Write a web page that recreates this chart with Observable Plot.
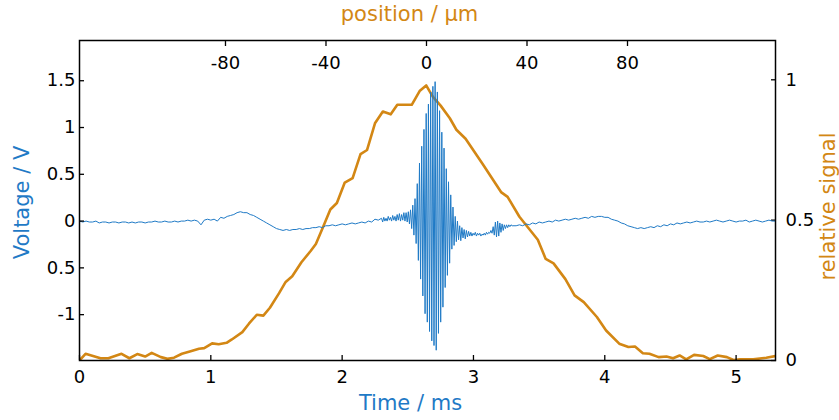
<!DOCTYPE html>
<html><head><meta charset="utf-8">
<script src="https://cdn.jsdelivr.net/npm/d3@7"></script>
<script src="https://cdn.jsdelivr.net/npm/@observablehq/plot@0.6"></script>
<style>
body{margin:0;background:#fff}
#c{position:relative;width:839px;height:420px}
#c svg{position:absolute;left:0;top:0}
</style></head><body><div id="c"></div>
<script>
const BLUE = "#1f7ac6", ORANGE = "#d38714";
const timeTicks = [0, 1, 2, 3, 4, 5];
const timeTickLabels = ["0", "1", "2", "3", "4", "5"];
const voltTicks = [-1, -0.5, 0, 0.5, 1, 1.5];
const voltTickLabels = ["-1", "0.5", "0", "0.5", "1", "1.5"];
const relTicks = [0, 0.5, 1];
const relTickLabels = ["0", "0.5", "1"];
const posTicks = [-80, -40, 0, 40, 80];
const posTickLabels = ["-80", "-40", "0", "40", "80"];

// Voltage trace, segment 1: sampled every 0.025 ms from 0 ms
const voltBeforeStart = 0, voltBeforeStep = 0.025;
const voltBefore = [
 0.00,-0.01,0.00,-0.01, -0.01,0.00,-0.02,-0.01, -0.01,-0.02,-0.01,-0.01, -0.02,-0.01,-0.01,-0.02,
 -0.01,-0.02,-0.01,-0.01, -0.02,-0.01,-0.01,0.00, -0.01,-0.01,0.00,-0.01, -0.01,0.00,-0.01,0.00,
 0.00,0.01,0.00,0.01, 0.00,-0.04,0.01,0.02, 0.01,0.02,0.00,0.04, 0.03,0.05,0.06,0.07,
 0.09,0.10,0.09,0.09, 0.07,0.06,0.04,0.02, 0.00,-0.02,-0.04,-0.06, -0.08,-0.09,-0.10,-0.09,
 -0.10,-0.09,-0.09,-0.08, -0.09,-0.08,-0.08,-0.07, -0.07,-0.06,-0.07,-0.05, -0.05,-0.04,-0.05,-0.04,
 -0.03,-0.04,-0.03,-0.02, -0.03,-0.02,-0.01,-0.02, 0.00,-0.01,0.02,0.01
];
// segment 2: the wave packet, one value per half period (0.0085 ms) from 2.30 ms
const voltPacketStart = 2.30, voltPacketStep = 0.0085;
const voltPacket = [
 0.03,-0.01,0.04,0.00,0.03,0.00,0.05,0.01,0.04,0.00,
 0.06,0.01,0.05,0.00,0.07,0.01,0.08,0.00,0.07,0.01,
 0.09,0.00,0.09,-0.01,0.10,-0.03,0.12,-0.08,0.17,-0.15,
 0.24,-0.24,0.40,-0.42,0.62,-0.62,0.80,-0.80,0.98,-0.99,
 1.15,-1.08,1.25,-1.18,1.38,-1.28,1.44,-1.33,1.49,-1.38,
 1.38,-1.20,1.18,-1.08,0.95,-0.92,0.78,-0.71,0.56,-0.58,
 0.42,-0.45,0.28,-0.30,0.15,-0.26,0.05,-0.22,0.00,-0.20,
 -0.05,-0.21,-0.07,-0.18,-0.09,-0.19,-0.10,-0.17,-0.11,-0.16,
 -0.12,-0.16,-0.13,-0.15,-0.12,-0.16,-0.13,-0.15,-0.13,-0.16,
 -0.14,-0.15,-0.13,-0.15,-0.12,-0.14,-0.12,-0.13,-0.10,-0.13,
 -0.06,-0.15,-0.01,-0.17,0.00,-0.16,-0.02,-0.12,-0.03,-0.10,
 -0.04,-0.08,-0.04,-0.07,-0.04,-0.06,-0.04,-0.05
];
// segment 3: sampled every 0.025 ms from 3.325 ms
const voltAfterStart = 3.325, voltAfterStep = 0.025;
const voltAfter = [
 -0.05,-0.04,-0.05,-0.03,-0.04,-0.02,-0.03,-0.01,-0.02,-0.01,
 0.00,-0.01,0.01,0.00,0.01,0.02,0.01,0.02,0.03,0.02,
 0.03,0.04,0.03,0.05,0.04,0.05,0.05,0.04,0.04,0.02,
 0.01,0.00,-0.02,-0.03,-0.05,-0.06,-0.07,-0.08,-0.07,-0.08,
 -0.07,-0.06,-0.07,-0.05,-0.06,-0.04,-0.05,-0.03,-0.04,-0.02,
 -0.03,-0.02,-0.01,-0.02,-0.01,0.00,-0.01,-0.01,0.00,-0.01,
 0.00,0.01,0.00,-0.01,0.00,0.01,0.00,-0.01,0.00,0.00,
 0.01,-0.01,0.00,0.01,0.00,-0.01,0.00,0.01,0.00,0.00
];

// Relative signal (orange) vs time
const relTime = [0.00,0.046,0.16,0.22,0.32,0.38,0.44,0.50,0.55,0.62,0.67,0.72,0.78,0.84,0.91,0.95,1.01,1.06,1.12,1.16,
 1.24,1.29,1.35,1.40,1.45,1.52,1.57,1.62,1.69,1.76,1.80,1.85,1.91,1.96,2.02,2.08,2.14,2.19,2.25,2.31,
 2.37,2.42,2.53,2.59,2.64,2.69,2.75,2.82,2.87,2.94,3.07,3.21,3.26,3.35,3.49,3.55,3.61,3.70,3.77,3.84,
 3.94,4.01,4.11,4.18,4.23,4.29,4.34,4.41,4.47,4.52,4.57,4.62,4.68,4.75,4.80,4.86,4.93,4.98,5.03,5.13,5.23,5.30];
const relSignal = [0.000,0.024,0.008,0.008,0.024,0.008,0.023,0.014,0.027,0.012,0.006,0.010,0.024,0.032,0.042,0.044,0.061,0.058,0.063,0.075,
 0.101,0.131,0.163,0.160,0.188,0.240,0.280,0.300,0.350,0.390,0.415,0.470,0.538,0.561,0.634,0.650,0.735,0.750,0.845,0.887,
 0.877,0.911,0.911,0.960,0.980,0.940,0.908,0.863,0.822,0.790,0.700,0.600,0.583,0.512,0.430,0.362,0.346,0.290,0.232,0.208,
 0.155,0.107,0.060,0.048,0.050,0.026,0.024,0.012,0.014,0.008,0.018,0.004,0.020,0.016,0.005,0.018,0.012,0.002,0.004,0.004,0.010,0.016];

const voltRows = [];
voltBefore.forEach((v, i) => voltRows.push({t: voltBeforeStart + i * voltBeforeStep, v}));
voltPacket.forEach((v, i) => voltRows.push({t: voltPacketStart + i * voltPacketStep, v}));
voltAfter.forEach((v, i) => voltRows.push({t: voltAfterStart + i * voltAfterStep, v}));
const relRows = relTime.map((t, i) => ({t, r: relSignal[i]}));

const base = {
  width: 839, height: 420, marginLeft: 79, marginRight: 64, marginTop: 40, marginBottom: 60,
  style: {fontFamily: "DejaVu Sans", fontSize: "18px", background: "transparent", overflow: "visible", color: "#000"}
};
const FS = 21;

const p2 = Plot.plot({
  ...base,
  x: {domain: [0, 5.3], axis: null},
  y: {domain: [0, 1.14], axis: null},
  marks: [
    Plot.line(relRows, {x: "t", y: "r", stroke: ORANGE, strokeWidth: 2.6, clip: true}),
    Plot.axisY({anchor: "right", ticks: relTicks, tickFormat: d => relTickLabels[relTicks.indexOf(d)], tickSize: -5, tickPadding: 15, label: null, strokeWidth: 1.3, fontSize: 18}),
    Plot.text(["relative signal"], {frameAnchor: "right", dx: 53, dy: 6, rotate: -90, textAnchor: "middle", lineAnchor: "middle", fill: ORANGE, fontSize: FS})
  ]
});

const p1 = Plot.plot({
  ...base,
  x: {domain: [0, 5.3]},
  y: {domain: [-1.49, 1.93]},
  marks: [
    Plot.line(voltRows, {x: "t", y: "v", stroke: BLUE, strokeWidth: 1, clip: true}),
    Plot.axisX({anchor: "bottom", ticks: timeTicks, tickFormat: d => timeTickLabels[timeTicks.indexOf(d)], tickSize: -5, tickPadding: 15, label: null, strokeWidth: 1.3, fontSize: 18}),
    Plot.axisY({anchor: "left", ticks: voltTicks, tickFormat: d => voltTickLabels[voltTicks.indexOf(d)], tickSize: -5, tickPadding: 9, label: null, strokeWidth: 1.3, fontSize: 18}),
    Plot.text(["Time / ms"], {frameAnchor: "bottom", dy: 43, dx: -17, textAnchor: "middle", lineAnchor: "middle", fill: BLUE, fontSize: FS}),
    Plot.text(["Voltage / V"], {frameAnchor: "left", dx: -57, dy: 2, rotate: -90, textAnchor: "middle", lineAnchor: "middle", fill: BLUE, fontSize: FS})
  ]
});

const p3 = Plot.plot({
  ...base,
  x: {domain: [-138.1, 138.9]},
  marks: [
    Plot.frame({stroke: "#000", strokeWidth: 1.5}),
    Plot.axisX({anchor: "top", ticks: posTicks, tickFormat: d => posTickLabels[posTicks.indexOf(d)], tickSize: -5, tickPadding: -23, label: null, strokeWidth: 1.3, fontSize: 18}),
    Plot.text(["position / µm"], {frameAnchor: "top", dy: -26, dx: -18, textAnchor: "middle", lineAnchor: "middle", fill: ORANGE, fontSize: FS})
  ]
});

const c = document.getElementById("c");
c.appendChild(p2); c.appendChild(p1); c.appendChild(p3);
</script></body></html>
